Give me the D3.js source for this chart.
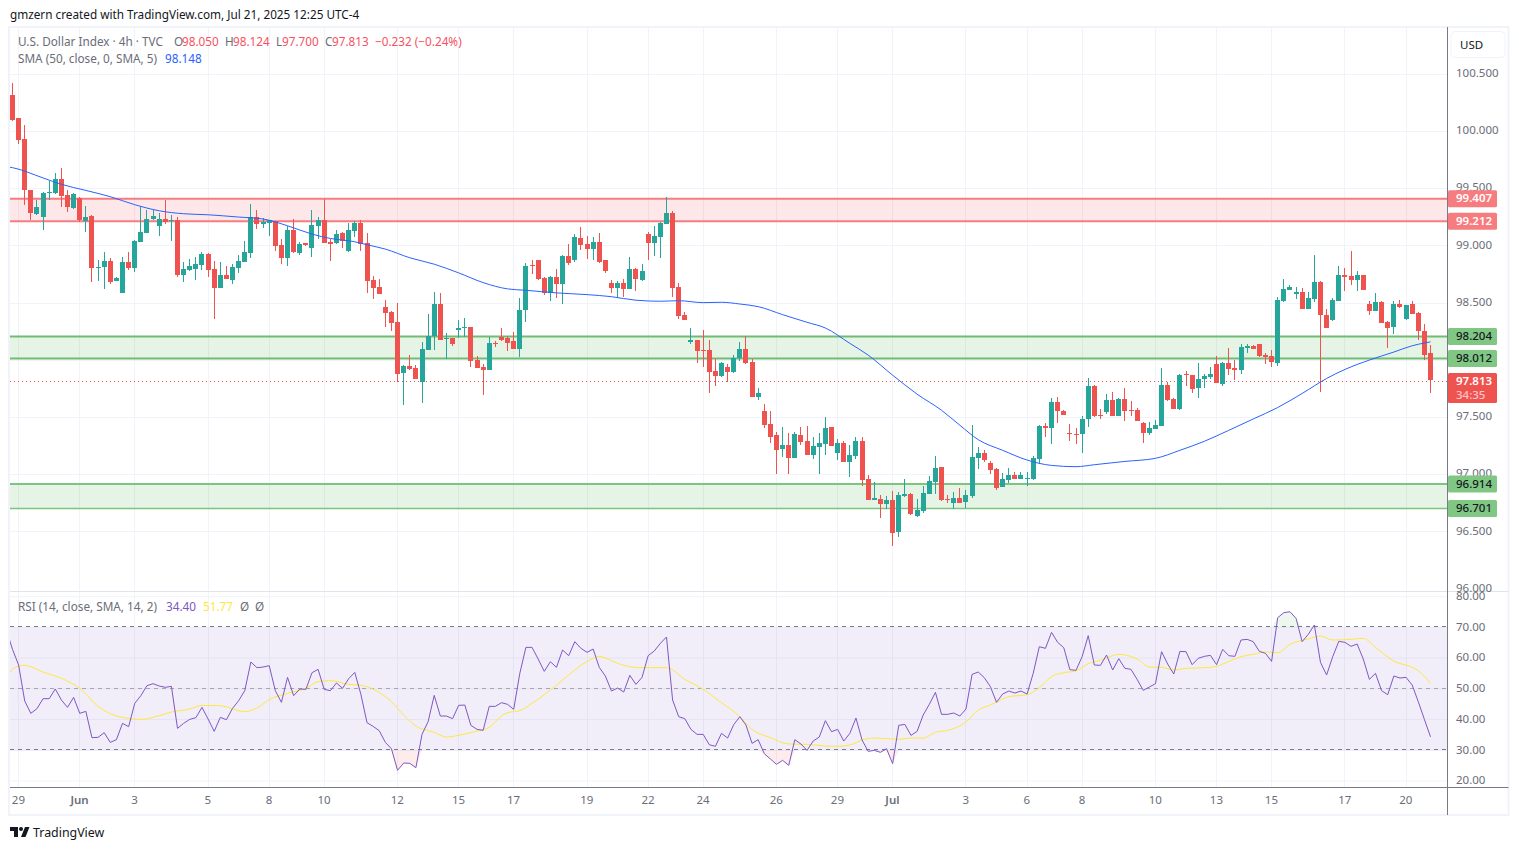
<!DOCTYPE html>
<html>
<head>
<meta charset="utf-8">
<script src="https://cdn.jsdelivr.net/npm/d3@7"></script>
<style>
  html, body { margin: 0; padding: 0; background: #fff; overflow: hidden; }
  svg { display: block; }
  text { font-family: "Noto Sans", Roboto, sans-serif; }
  .axis path, .axis line { display: none; }
</style>
</head>
<body>
<svg id="chart"></svg>
<script>
const opens = [
  100.302,100.101,99.917,99.478,99.268,99.236,99.455,99.446,99.575,99.435,
  99.321,99.408,99.207,99.251,98.795,98.804,98.856,98.681,98.576,98.848,
  98.795,99.023,99.102,99.224,99.163,99.224,99.201,99.216,98.734,98.777,
  98.786,98.821,98.918,98.786,98.620,98.734,98.690,98.795,98.848,98.926,
  99.242,99.180,99.189,99.207,98.996,98.883,99.128,98.926,99.008,98.970,
  99.163,99.216,99.023,99.014,99.102,98.944,99.119,99.189,99.014,98.690,
  98.628,98.453,98.409,98.322,97.875,97.936,97.919,97.796,98.076,98.199,
  98.479,98.173,98.181,98.252,98.272,98.278,97.989,97.927,97.901,98.135,
  98.190,98.181,98.155,98.085,98.427,98.821,98.865,98.707,98.576,98.716,
  98.655,98.900,98.865,99.058,99.005,98.961,99.023,98.865,98.663,98.620,
  98.663,98.611,98.786,98.690,99.093,99.014,99.067,99.180,99.277,98.628,
  98.383,98.146,98.164,98.076,98.076,97.892,97.848,97.927,97.884,98.007,
  98.086,97.972,97.665,97.542,97.428,97.332,97.209,97.244,97.130,97.332,
  97.279,97.157,97.227,97.253,97.402,97.174,97.262,97.095,97.148,97.279,
  96.946,96.762,96.771,96.727,96.762,96.482,96.797,96.815,96.622,96.666,
  96.815,96.920,97.052,96.771,96.736,96.780,96.745,96.797,97.130,97.174,
  97.087,97.034,96.876,96.938,96.981,96.946,96.949,96.946,97.122,97.411,
  97.393,97.621,97.542,97.349,97.341,97.341,97.472,97.761,97.507,97.533,
  97.638,97.498,97.647,97.551,97.551,97.437,97.349,97.384,97.410,97.770,
  97.647,97.559,97.866,97.857,97.743,97.822,97.840,97.954,97.778,97.963,
  97.919,97.901,98.094,98.111,98.129,98.033,98.024,97.963,98.506,98.602,
  98.570,98.585,98.436,98.523,98.672,98.383,98.339,98.506,98.734,98.725,
  98.690,98.734,98.480,98.418,98.497,98.322,98.278,98.480,98.348,98.480,
  98.401,98.243,98.050
];
const highs = [
  100.413,100.109,100.048,99.478,99.391,99.461,99.551,99.627,99.671,99.478,
  99.449,99.417,99.338,99.259,98.865,98.935,98.883,98.716,98.891,98.935,
  99.040,99.338,99.303,99.303,99.277,99.391,99.259,99.242,98.848,98.874,
  98.891,98.935,98.926,98.856,98.848,98.812,98.830,98.909,99.032,99.356,
  99.303,99.233,99.216,99.207,99.049,99.163,99.224,99.023,99.014,99.303,
  99.242,99.400,99.049,99.128,99.110,99.189,99.207,99.216,99.102,98.725,
  98.698,98.514,98.418,98.488,97.945,98.032,97.945,98.146,98.392,98.585,
  98.576,98.225,98.181,98.339,98.357,98.278,98.024,97.954,98.190,98.155,
  98.269,98.199,98.234,98.532,98.839,98.865,98.865,98.716,98.725,98.786,
  98.909,99.005,99.093,99.154,99.075,99.067,99.102,98.865,98.690,98.681,
  98.698,98.891,98.795,98.830,99.110,99.163,99.198,99.417,99.294,98.663,
  98.409,98.269,98.164,98.252,98.164,97.997,97.971,97.954,98.033,98.147,
  98.199,97.998,97.744,97.604,97.542,97.358,97.402,97.349,97.358,97.402,
  97.411,97.314,97.349,97.490,97.402,97.297,97.279,97.244,97.314,97.314,
  96.981,96.920,96.806,96.797,96.841,96.832,96.946,96.824,96.771,96.885,
  96.973,97.148,97.052,96.806,96.832,96.868,96.850,97.420,97.227,97.201,
  97.104,97.043,96.999,97.043,97.008,97.008,97.008,97.148,97.420,97.437,
  97.656,97.665,97.551,97.428,97.393,97.498,97.831,97.770,97.559,97.691,
  97.708,97.656,97.743,97.630,97.568,97.446,97.446,97.463,97.919,97.796,
  97.656,97.866,97.892,97.857,97.963,97.866,97.927,98.024,97.971,98.094,
  97.989,98.129,98.129,98.120,98.129,98.050,98.076,98.541,98.699,98.646,
  98.629,98.620,98.585,98.909,98.681,98.436,98.532,98.813,98.795,98.944,
  98.769,98.734,98.506,98.576,98.506,98.331,98.506,98.515,98.471,98.506,
  98.409,98.304,98.124
];
const lows = [
  100.077,99.876,99.341,99.216,99.259,99.128,99.385,99.443,99.324,99.286,
  99.312,99.192,99.110,98.672,98.681,98.611,98.655,98.681,98.576,98.777,
  98.760,99.023,99.102,99.216,99.075,99.180,99.032,98.716,98.672,98.769,
  98.690,98.777,98.716,98.348,98.620,98.699,98.655,98.751,98.848,98.883,
  99.137,99.145,99.075,98.944,98.830,98.812,98.926,98.909,98.988,98.891,
  99.049,99.014,98.856,99.005,98.970,98.935,99.067,98.944,98.576,98.523,
  98.567,98.278,98.243,97.796,97.594,97.901,97.822,97.612,98.076,98.076,
  98.164,97.997,98.111,98.181,98.190,97.927,97.919,97.682,97.901,98.103,
  98.155,98.068,98.085,98.015,98.322,98.742,98.690,98.558,98.506,98.532,
  98.479,98.821,98.847,98.953,98.874,98.865,98.839,98.751,98.576,98.532,
  98.541,98.611,98.593,98.681,98.865,98.900,98.882,99.180,98.541,98.348,
  98.339,98.129,97.962,97.927,97.699,97.761,97.840,97.796,97.875,97.980,
  97.954,97.665,97.639,97.393,97.262,96.990,97.139,96.990,97.130,97.244,
  97.157,97.122,96.990,97.157,97.236,97.113,97.095,96.964,97.122,96.885,
  96.762,96.762,96.605,96.683,96.368,96.438,96.789,96.631,96.613,96.648,
  96.815,96.815,96.754,96.736,96.683,96.736,96.692,96.780,97.034,97.095,
  96.990,96.850,96.876,96.911,96.946,96.946,96.885,96.938,97.078,97.314,
  97.253,97.437,97.507,97.279,97.253,97.174,97.402,97.489,97.472,97.516,
  97.498,97.498,97.454,97.498,97.454,97.261,97.332,97.384,97.410,97.630,
  97.559,97.551,97.761,97.700,97.656,97.743,97.822,97.787,97.761,97.857,
  97.814,97.866,98.050,98.085,98.015,97.954,97.927,97.936,98.497,98.602,
  98.523,98.436,98.436,98.497,97.708,98.269,98.331,98.506,98.593,98.646,
  98.593,98.602,98.383,98.418,98.313,98.094,98.217,98.444,98.339,98.392,
  98.164,97.989,97.700
];
const closes = [
  100.086,99.911,99.473,99.271,99.329,99.452,99.461,99.575,99.420,99.324,
  99.443,99.216,99.242,98.795,98.804,98.856,98.672,98.707,98.848,98.795,
  99.032,99.110,99.224,99.251,99.224,99.198,99.216,98.734,98.786,98.812,
  98.830,98.918,98.777,98.620,98.734,98.699,98.804,98.856,98.935,99.242,
  99.180,99.198,99.216,98.988,98.883,99.128,98.935,99.005,98.996,99.172,
  99.216,99.014,99.005,99.093,99.032,99.128,99.189,99.005,98.681,98.620,
  98.567,98.401,98.313,97.866,97.936,97.910,97.822,98.085,98.199,98.479,
  98.164,98.181,98.129,98.269,98.278,97.980,97.919,97.901,98.138,98.129,
  98.164,98.138,98.085,98.427,98.812,98.815,98.698,98.576,98.716,98.655,
  98.900,98.839,99.067,98.996,98.961,99.023,98.847,98.769,98.620,98.663,
  98.611,98.786,98.698,98.769,99.014,99.075,99.189,99.277,98.620,98.374,
  98.339,98.164,98.068,98.068,97.884,97.848,97.962,97.884,98.007,98.086,
  97.963,97.665,97.700,97.420,97.314,97.201,97.244,97.130,97.341,97.271,
  97.157,97.236,97.262,97.393,97.236,97.262,97.095,97.157,97.279,96.938,
  96.762,96.780,96.727,96.762,96.473,96.806,96.815,96.640,96.675,96.824,
  96.929,97.043,96.762,96.762,96.780,96.736,96.806,97.139,97.174,97.113,
  97.025,96.868,96.946,96.981,96.946,96.981,96.955,97.130,97.411,97.393,
  97.621,97.542,97.507,97.344,97.335,97.472,97.761,97.498,97.501,97.638,
  97.498,97.647,97.542,97.545,97.454,97.349,97.393,97.419,97.770,97.638,
  97.559,97.857,97.860,97.735,97.822,97.849,97.866,97.787,97.963,97.910,
  97.901,98.103,98.111,98.085,98.024,98.015,97.971,98.515,98.611,98.629,
  98.585,98.436,98.532,98.672,98.383,98.269,98.515,98.734,98.716,98.690,
  98.734,98.602,98.418,98.497,98.313,98.269,98.480,98.450,98.471,98.392,
  98.243,98.033,97.813
];

// 50 period SMA, read at every few candles (-1 is the bar cut off by the left edge)
const smaIndex = [-1,0,5,8,12,16,20,24,28,32,37,41,45,49,52,56,58,61,65,69,73,77,81,84,89,94,98,102,106,109,113,116,119,122,126,130,133,137,140,144,148,152,155,158,162,166,170,174,177,182,187,191,195,199,203,207,211,215,218,222,226,229,231,232];
const smaValues = [99.680,99.671,99.581,99.525,99.472,99.417,99.347,99.294,99.268,99.259,99.239,99.222,99.163,99.090,99.052,99.023,98.997,98.959,98.883,98.827,98.751,98.666,98.611,98.599,98.576,98.561,98.543,98.512,98.503,98.508,98.491,98.494,98.479,98.456,98.386,98.319,98.269,98.135,98.032,97.857,97.691,97.550,97.419,97.293,97.200,97.115,97.068,97.057,97.074,97.103,97.130,97.200,97.279,97.375,97.474,97.574,97.697,97.828,97.907,97.989,98.059,98.114,98.138,98.148];

// first entry is the bar cut off by the left edge, then one per candle
const rsiValues = [
  69.10,
  62.84,57.75,46.04,42.03,43.55,46.80,46.80,49.95,46.37,43.98,
  47.23,42.03,42.68,34.12,34.23,35.74,32.60,33.47,38.78,37.70,
  45.28,47.78,51.03,51.68,50.92,50.49,50.81,37.15,38.78,40.08,
  40.62,43.98,40.19,36.18,40.73,39.97,43.66,46.15,49.40,58.73,
  56.88,57.10,57.53,49.40,45.61,53.74,47.78,49.95,49.84,55.26,
  56.34,49.84,49.40,51.90,50.16,53.31,55.36,48.21,39.00,37.80,
  36.39,32.60,30.54,23.49,25.88,25.77,24.36,35.20,39.32,47.88,
  41.16,41.16,40.30,44.63,44.74,38.13,36.83,36.50,44.31,44.31,
  45.50,44.96,43.33,55.04,63.49,63.49,59.70,55.69,58.83,56.99,
  62.63,60.78,65.34,63.17,61.87,62.95,56.99,54.17,49.29,50.27,
  48.97,54.39,51.46,53.74,60.78,62.30,64.80,66.86,46.37,40.95,
  40.30,36.83,35.20,35.20,31.84,31.30,35.53,34.01,38.35,40.95,
  38.24,32.28,33.47,28.92,27.18,25.45,26.75,25.12,33.47,32.06,
  30.00,33.03,34.34,39.65,36.07,36.83,33.03,35.53,40.51,33.36,
  29.67,30.00,29.35,30.54,25.66,38.13,38.45,34.88,36.18,41.49,
  44.96,48.86,41.71,41.71,42.14,41.16,43.44,54.71,55.47,53.63,
  50.70,45.61,48.32,49.29,48.64,49.29,48.32,55.04,63.71,63.17,
  68.37,65.12,63.39,56.23,56.02,60.46,67.29,57.75,57.64,61.00,
  56.12,59.81,56.67,56.34,53.09,49.51,50.60,51.68,62.09,58.07,
  54.82,62.19,62.09,57.86,59.92,60.57,60.89,57.86,62.84,60.78,
  60.57,65.88,66.10,65.34,62.19,61.54,58.94,73.14,74.77,75.09,
  72.93,65.34,67.72,70.76,58.62,54.50,60.46,65.45,65.12,63.82,
  64.58,59.70,53.09,55.04,49.40,48.10,54.17,53.52,53.74,51.25,
  45.83,40.08,34.40
];

// RSI based MA, read at every few candles
const rsiMaIndex = [-1,0,1,2,5,8,11,14,16,19,21,24,26,29,31,34,38,40,42,45,48,50,52,55,57,60,62,64,66,69,71,73,76,78,80,81,83,85,87,89,91,93,95,96,98,100,103,107,110,113,116,119,121,124,127,130,133,135,137,139,141,145,147,149,151,153,156,158,160,161,163,166,168,170,172,174,176,178,181,184,186,188,190,192,195,197,199,201,203,205,207,209,212,214,216,219,221,223,226,229,230,232];
const rsiMaValues = [53.74,56.34,57.42,57.64,55.47,53.41,50.16,44.31,41.92,40.41,40.08,41.27,42.47,43.44,44.63,44.52,42.57,43.77,46.48,48.54,50.16,52.33,52.65,51.46,51.14,48.86,45.83,41.49,37.91,35.85,34.34,34.88,36.29,37.48,41.16,42.25,42.90,45.28,48.10,51.20,54.50,57.64,59.92,60.57,59.16,57.64,56.88,56.88,53.09,49.84,45.50,40.95,36.83,34.12,32.06,31.95,31.41,31.30,31.73,33.36,34.01,33.58,34.01,34.01,35.85,36.50,39.21,43.12,44.74,45.72,47.45,48.10,50.38,53.96,55.26,55.80,58.18,59.27,61.22,59.70,57.10,56.99,56.12,56.67,56.88,57.32,58.94,60.46,61.22,61.98,61.76,64.47,66.21,67.18,65.88,66.10,66.42,63.49,59.05,56.99,55.91,51.77];

// date ticks sit on candle numbers
const tickIndex = [1,11,20,32,42,51,63,73,82,94,104,113,125,135,144,156,166,175,187,197,206,218,228];
const tickLabels = ['29','Jun','3','5','8','10','12','15','17','19','22','24','26','29','Jul','3','6','8','10','13','15','17','20'];

const priceTicks = [100.5,100,99.5,99,98.5,98,97.5,97,96.5,96];
const rsiTicks = [80,70,60,50,40,30,20];
const resistanceZone = [99.407,99.212];
const supportZoneUpper = [98.204,98.012];
const supportZoneLower = [96.914,96.701];
const lastPrice = 97.813;
const countdown = '34:35';

const width = 1519, height = 850;
const paneLeft = 10, paneRight = 1447.5, frameRight = 1508.5, priceTop = 27, paneSplit = 591.5, timeLine = 787.5, frameBottom = 815;
const red = '#ef5350', green = '#26a69a', gray = '#6a6d78', gridColor = '#f0f3fa';
const rsiYellow = '#fde73f';

const svg = d3.select('#chart').attr('width', width).attr('height', height);

const x = d3.scaleLinear().domain([0, 232]).range([12.5, 1430.5]);
const y = d3.scaleLinear().domain([96, 100]).range([588.6, 131]);
const rsiY = d3.scaleLinear().domain([20, 80]).range([781.1, 596.6]);
const xPix = i => Math.round(x(i) - 0.5) + 0.5;

svg.append('defs').append('clipPath').attr('id', 'priceClip').append('rect')
  .attr('x', paneLeft).attr('y', priceTop).attr('width', paneRight - paneLeft).attr('height', paneSplit - priceTop);
svg.select('defs').append('clipPath').attr('id', 'rsiClip').append('rect')
  .attr('x', paneLeft).attr('y', paneSplit).attr('width', paneRight - paneLeft).attr('height', timeLine - paneSplit);

// vertical grid in both panes
svg.append('g').selectAll('line').data(tickIndex).join('line')
  .attr('x1', d => xPix(d)).attr('x2', d => xPix(d))
  .attr('y1', priceTop).attr('y2', timeLine)
  .attr('stroke', gridColor);

// horizontal grid
svg.append('g').selectAll('line').data(priceTicks.slice(0, -1)).join('line')
  .attr('x1', paneLeft).attr('x2', paneRight)
  .attr('y1', d => Math.round(y(d)) + 0.5).attr('y2', d => Math.round(y(d)) + 0.5)
  .attr('stroke', gridColor);
svg.append('g').selectAll('line').data(rsiTicks).join('line')
  .attr('x1', paneLeft).attr('x2', paneRight)
  .attr('y1', d => rsiY(d)).attr('y2', d => rsiY(d))
  .attr('stroke', gridColor);

// zones
const zones = [
  {levels: resistanceZone, line: '#f77c80', fill: 'rgba(242,54,69,0.12)', widths: [2, 2]},
  {levels: supportZoneUpper, line: '#6fbc72', fill: 'rgba(76,175,80,0.14)', widths: [2, 2]},
  {levels: supportZoneLower, line: '#7cc47f', fill: 'rgba(76,175,80,0.14)', widths: [2, 1.5]}
];
zones.forEach(z => {
  svg.append('rect')
    .attr('x', paneLeft).attr('width', paneRight - paneLeft)
    .attr('y', y(z.levels[0])).attr('height', y(z.levels[1]) - y(z.levels[0]))
    .attr('fill', z.fill);
  z.levels.forEach((lv, i) => {
    svg.append('line')
      .attr('x1', paneLeft).attr('x2', paneRight)
      .attr('y1', y(lv)).attr('y2', y(lv))
      .attr('stroke', z.line).attr('stroke-width', z.widths[i]);
  });
});

// last price dotted line
svg.append('line')
  .attr('x1', paneLeft).attr('x2', paneRight)
  .attr('y1', Math.floor(y(lastPrice)) + 0.5).attr('y2', Math.floor(y(lastPrice)) + 0.5)
  .attr('stroke', red).attr('stroke-dasharray', '1 3');

// candles and the SMA were read about a pixel high against the axis labels
const pricePane = svg.append('g').attr('clip-path', 'url(#priceClip)').append('g').attr('transform', 'translate(0,-1)');

const candles = pricePane.selectAll('g').data(opens.map((d, i) => i)).join('g')
  .attr('fill', i => closes[i] >= opens[i] ? green : red)
  .attr('shape-rendering', 'crispEdges');
candles.append('rect')
  .attr('x', i => xPix(i) - 0.5).attr('width', 1)
  .attr('y', i => y(highs[i])).attr('height', i => y(lows[i]) - y(highs[i]));
candles.append('rect')
  .attr('x', i => xPix(i) - 2.5).attr('width', 5)
  .attr('y', i => y(Math.max(opens[i], closes[i])))
  .attr('height', i => Math.max(1, Math.abs(y(opens[i]) - y(closes[i]))));

pricePane.append('path')
  .datum(smaIndex)
  .attr('fill', 'none').attr('stroke', '#2962ff').attr('stroke-width', 1)
  .attr('d', d3.line().x(d => x(d)).y((d, i) => y(smaValues[i])).curve(d3.curveMonotoneX));

// RSI pane
const rsiPane = svg.append('g').attr('clip-path', 'url(#rsiClip)');
rsiPane.append('rect')
  .attr('x', paneLeft).attr('width', paneRight - paneLeft)
  .attr('y', rsiY(70)).attr('height', rsiY(30) - rsiY(70))
  .attr('fill', 'rgba(126,87,194,0.1)');

rsiPane.append('path').datum(rsiValues)
  .attr('fill', 'rgba(242,54,69,0.1)')
  .attr('d', d3.area().x((d, i) => x(i - 1)).y0(rsiY(30)).y1(d => rsiY(Math.min(d, 30))));
rsiPane.append('path').datum(rsiValues)
  .attr('fill', 'rgba(76,175,80,0.1)')
  .attr('d', d3.area().x((d, i) => x(i - 1)).y0(rsiY(70)).y1(d => rsiY(Math.max(d, 70))));

[[70, 1], [50, 0.6], [30, 1]].forEach(([lv, op]) => {
  rsiPane.append('line')
    .attr('x1', paneLeft).attr('x2', paneRight)
    .attr('y1', Math.round(rsiY(lv)) - 0.5).attr('y2', Math.round(rsiY(lv)) - 0.5)
    .attr('stroke', '#787b86').attr('stroke-opacity', op).attr('stroke-dasharray', '4 4');
});

rsiPane.append('path').datum(rsiMaIndex)
  .attr('fill', 'none').attr('stroke', rsiYellow).attr('stroke-width', 1)
  .attr('d', d3.line().x(d => x(d)).y((d, i) => rsiY(rsiMaValues[i])).curve(d3.curveMonotoneX));
rsiPane.append('path').datum(rsiValues)
  .attr('fill', 'none').attr('stroke', '#7e57c2').attr('stroke-width', 1)
  .attr('d', d3.line().x((d, i) => x(i - 1)).y(d => rsiY(d)));

// frame and pane lines
svg.append('rect')
  .attr('x', 9).attr('y', 27).attr('width', frameRight - 9).attr('height', frameBottom - 27)
  .attr('fill', 'none').attr('stroke', gridColor).attr('stroke-width', 2);
svg.append('line').attr('x1', paneLeft).attr('x2', frameRight).attr('y1', paneSplit).attr('y2', paneSplit).attr('stroke', '#e0e3eb');
svg.append('line').attr('x1', paneLeft).attr('x2', frameRight).attr('y1', timeLine).attr('y2', timeLine).attr('stroke', '#787b86');
svg.append('line').attr('x1', paneRight).attr('x2', paneRight).attr('y1', priceTop).attr('y2', frameBottom).attr('stroke', '#787b86');

// axes
const priceAxis = svg.append('g').attr('class', 'axis')
  .attr('transform', 'translate(' + (paneRight - 0.5) + ',-1)')
  .call(d3.axisRight(y).tickValues(priceTicks).tickFormat(d3.format('.3f')).tickSize(0).tickPadding(9));
const rsiAxis = svg.append('g').attr('class', 'axis')
  .attr('transform', 'translate(' + (paneRight - 0.5) + ',-1)')
  .call(d3.axisRight(rsiY).tickValues(rsiTicks).tickFormat(d3.format('.2f')).tickSize(0).tickPadding(9));
const timeAxis = svg.append('g').attr('class', 'axis')
  .attr('transform', 'translate(-0.7,' + (timeLine + 1.5) + ')')
  .call(d3.axisBottom(x).tickValues(tickIndex).tickFormat((d, i) => tickLabels[i]).tickSize(0).tickPadding(7));
svg.selectAll('.axis text')
  .attr('fill', gray).style('font-size', '11.5px').style('font-family', '"Noto Sans"');
timeAxis.selectAll('text').filter((d, i) => tickLabels[i] === 'Jun' || tickLabels[i] === 'Jul').style('font-weight', 600);

// price tags on the scale
const tags = [
  {p: resistanceZone[0], bg: '#f77c80', fg: '#fff', w: 600},
  {p: resistanceZone[1], bg: '#f77c80', fg: '#fff', w: 600},
  {p: supportZoneUpper[0], bg: '#81c784', fg: '#131722', w: 500},
  {p: supportZoneUpper[1], bg: '#81c784', fg: '#131722', w: 500},
  {p: supportZoneLower[0], bg: '#81c784', fg: '#131722', w: 500},
  {p: supportZoneLower[1], bg: '#81c784', fg: '#131722', w: 500}
];
tags.forEach(t => {
  svg.append('rect')
    .attr('x', 1448).attr('width', 49).attr('y', y(t.p) - 8.5).attr('height', 17).attr('rx', 1.5)
    .attr('fill', t.bg);
  svg.append('text')
    .attr('x', 1456).attr('y', y(t.p) - 0.5).attr('dy', '0.35em')
    .attr('fill', t.fg).style('font-size', '11.5px').style('font-weight', t.w)
    .text(d3.format('.3f')(t.p));
});
svg.append('rect')
  .attr('x', 1448).attr('width', 49).attr('y', 373).attr('height', 30).attr('rx', 1.5).attr('fill', red);
svg.append('text').attr('x', 1456).attr('y', y(lastPrice) - 0.5).attr('dy', '0.35em')
  .attr('fill', '#fff').style('font-size', '11.5px').style('font-weight', 600).text(d3.format('.3f')(lastPrice));
svg.append('text').attr('x', 1456).attr('y', 395).attr('dy', '0.35em')
  .attr('fill', '#fbc5c5').style('font-size', '11.5px').style('font-weight', 500).text(countdown);

// USD button
svg.append('rect').attr('x', 1451).attr('y', 31.5).attr('width', 54).attr('height', 26).attr('rx', 4)
  .attr('fill', '#fff').attr('stroke', gridColor);
svg.append('text').attr('x', 1460).attr('y', 44.5).attr('dy', '0.35em')
  .attr('fill', '#131722').style('font-size', '11.5px').text('USD');

// legends
function legendText(px, py, txt, color) {
  svg.append('text').attr('x', px).attr('y', py).attr('dy', '0.35em')
    .attr('fill', color).style('font-size', '11.75px').text(txt);
}
const legendRed = '#f7525f';
legendText(10, 15, 'gmzern created with TradingView.com, Jul 21, 2025 12:25 UTC-4', '#131722');
legendText(18, 41.5, 'U.S. Dollar Index · 4h · TVC', gray);
legendText(174, 41.5, 'O', gray);
legendText(182, 41.5, '98.050', legendRed);
legendText(225, 41.5, 'H', gray);
legendText(233, 41.5, '98.124', legendRed);
legendText(276, 41.5, 'L', gray);
legendText(282, 41.5, '97.700', legendRed);
legendText(325, 41.5, 'C', gray);
legendText(332, 41.5, '97.813', legendRed);
legendText(375, 41.5, '−0.232 (−0.24%)', legendRed);
legendText(18, 58.5, 'SMA (50, close, 0, SMA, 5)', gray);
legendText(165, 58.5, '98.148', '#2962ff');
legendText(18, 606.5, 'RSI (14, close, SMA, 14, 2)', gray);
legendText(166, 606.5, '34.40', '#7e57c2');
legendText(203, 606.5, '51.77', rsiYellow);
legendText(240, 606.5, 'Ø', gray);
legendText(255, 606.5, 'Ø', gray);

// TradingView mark
svg.append('path').attr('fill', '#131722').attr('d', 'M10 827h8v10h-4v-6h-4z');
svg.append('circle').attr('cx', 21).attr('cy', 829).attr('r', 2).attr('fill', '#131722');
svg.append('path').attr('fill', '#131722').attr('d', 'M25 827h4.5l-4 10h-4.5z');
svg.append('text').attr('x', 33).attr('y', 832.5).attr('dy', '0.35em')
  .attr('fill', '#131722').style('font-size', '12.4px').text('TradingView');
</script>
</body>
</html>
